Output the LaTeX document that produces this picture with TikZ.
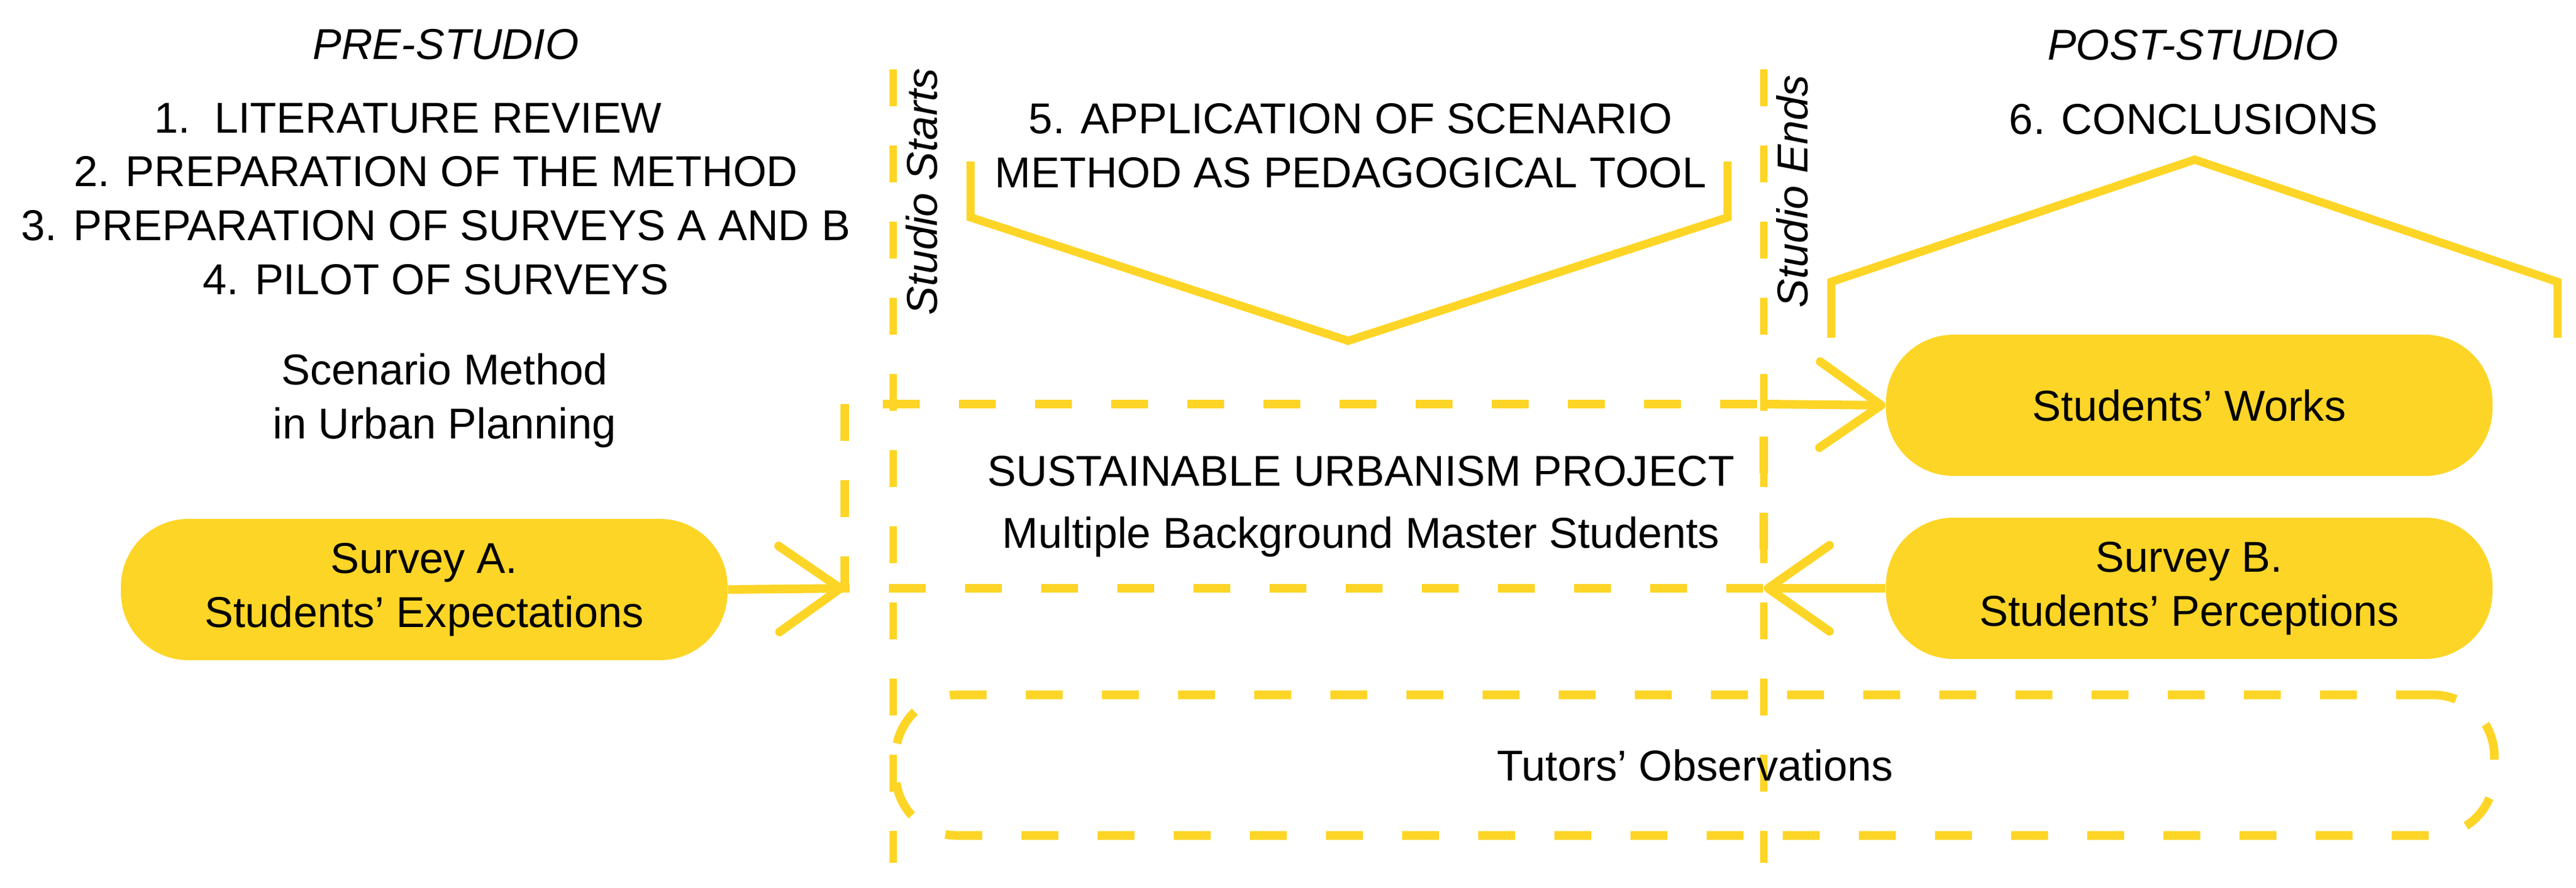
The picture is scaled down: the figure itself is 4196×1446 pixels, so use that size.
\documentclass[tikz,border=0pt]{standalone}
\usepackage{fontspec}
\setmainfont{Liberation Sans}
\usepackage{tikz}
\usetikzlibrary{positioning,arrows.meta,calc}
\definecolor{studioyellow}{RGB}{253,213,38}

\begin{document}
\begin{tikzpicture}
    [
        x=0.1mm, y=-0.1mm,
        every node/.style={font=\fontsize{20}{25}\selectfont, align=center, inner sep=0pt},
        phase/.style={font=\fontsize{20}{25}\selectfont\itshape},
        pill/.style={fill=studioyellow, rounded corners=11mm, minimum width=98.8mm, minimum height=23mm},
        yline/.style={studioyellow, line width=3.8pt},
        dashline/.style={studioyellow, line width=4pt, dash pattern=on 6mm off 6.4mm},
        dashbox/.style={draw=studioyellow, line width=4pt, dash pattern=on 6mm off 6.4mm},
        studioline/.style={studioyellow, line width=3.4pt, dash pattern=on 6mm off 6.4mm},
        flow/.style={yline, line width=4pt, -{Straight Barb[length=10mm, width=14mm, round]}}
    ]

    \useasboundingbox (0,0) rectangle (4196,1446);

    % phases
    \node[phase] (pre) at (726,72) {PRE-STUDIO};
    \node[phase] (post) at (3572,73) {POST-STUDIO};

    \node (prep) at (710,324)
        {1.~~LITERATURE REVIEW\hspace*{9mm}\\2. PREPARATION OF THE METHOD\\
         3. PREPARATION OF SURVEYS A AND B\\4. PILOT OF SURVEYS};
    \node (scen) at (724,652) {Scenario Method\\in Urban Planning};
    \node (apply) at (2200,237) {5. APPLICATION OF SCENARIO\\METHOD AS PEDAGOGICAL TOOL};
    \node (concl) at (3573,194) {6. CONCLUSIONS};

    % studio start / end
    \foreach \sx/\nm/\txt in {1455/starts/Studio Starts,2873/ends/Studio Ends}
    {
        \coordinate (\nm top) at (\sx,113);
        \coordinate (\nm bot) at (\sx,1405);
        \draw[studioline] (\nm top) -- (\nm bot);
        \node[phase,rotate=90] (\nm) at (\sx+46,312) {\txt};
    }

    \draw[yline] (1581,263) -- (1581,354) -- (2196,555) -- (2814,354) -- (2814,263);
    \draw[yline] (2983,550) -- (2983,459) -- (3575,260) -- (4166,459) -- (4166,550);

    % project box
    \coordinate (projNW) at (1376,658);
    \coordinate (projNE) at (2873,658);
    \coordinate (projSW) at (1376,958);
    \coordinate (projSE) at (2873,958);
    \draw[dashline] (projNW) rectangle (projSE);
    \node[anchor=base] (proj) at (2217,792) {SUSTAINABLE URBANISM PROJECT};
    \node[anchor=base] (mbms) at (2217,893) {Multiple Background Master Students};

    \node[pill] (surveyA) at (691,960) {Survey A.\\Students' Expectations};
    \node[pill] (works) at (3566,660) {Students' Works};
    \node[pill] (surveyB) at (3566,958) {Survey B.\\Students' Perceptions};

    \draw[flow] (surveyA.east) -- (projSW);
    \draw[flow] (projNE) -- (works.west);
    \draw[flow] (surveyB.west) -- (projSE);

    \node[dashbox, rounded corners=10mm, minimum width=260.4mm, minimum height=22.9mm]
        (tutors) at (2761,1246) {Tutors' Observations};
\end{tikzpicture}
\end{document}
